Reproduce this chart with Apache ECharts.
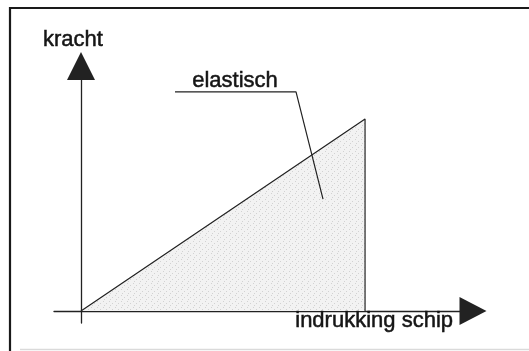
<!DOCTYPE html>
<html>
<head>
<meta charset="utf-8">
<script src="https://cdn.jsdelivr.net/npm/echarts@6/dist/echarts.min.js"></script>
<style>
html,body{margin:0;padding:0;background:#fff;}
#chart{width:529px;height:351px;}
</style>
</head>
<body>
<div id="chart"></div>
<script>
// Data (relative units: indrukking on x, kracht on y)
var indrukking = [0, 1, 1];
var kracht = [0, 1, 0];
// leader line for the "elastisch" annotation
var leaderX = [0.331, 0.757, 0.852];
var leaderY = [1.141, 1.141, 0.583];
var xTitle = 'indrukking schip';
var yTitle = 'kracht';
var areaLabel = 'elastisch';

var FONT = '"Liberation Sans", Arial, Helvetica, sans-serif';
var TXT = {fill: '#151515', stroke: '#151515', lineWidth: 0.5};

// stippled grey fill pattern
var pat = document.createElement('canvas');
pat.width = 6; pat.height = 6;
var pc = pat.getContext('2d');
pc.fillStyle = '#f2f2f2';
pc.fillRect(0, 0, 6, 6);
pc.fillStyle = '#d2d2d2';
pc.fillRect(1, 1, 1, 1);
pc.fillRect(4, 3, 1, 1);
pc.fillRect(2, 5, 1, 1);

var chart = echarts.init(document.getElementById('chart'), null, {renderer: 'canvas'});

var axisLine = {
  show: true,
  onZero: true,
  lineStyle: {color: '#222222', width: 1.3}
};

chart.setOption({
  animation: false,
  backgroundColor: '#ffffff',
  grid: {left: 54, right: 56, top: 66, bottom: 28},
  xAxis: {
    type: 'value', min: -0.095, max: 1.380,
    axisLine: Object.assign({}, axisLine, {symbol: ['none', 'triangle'], symbolSize: [28, 27]}),
    axisTick: {show: false}, axisLabel: {show: false}, splitLine: {show: false}
  },
  yAxis: {
    type: 'value', min: -0.0625, max: 1.276,
    axisLine: Object.assign({}, axisLine, {symbol: ['none', 'triangle'], symbolSize: [28, 28]}),
    axisTick: {show: false}, axisLabel: {show: false}, splitLine: {show: false},
    name: yTitle, nameLocation: 'end', nameGap: 26,
    nameTextStyle: {fontFamily: FONT, fontSize: 22, color: '#151515', textBorderColor: '#151515', textBorderWidth: 0.5,
      align: 'center', verticalAlign: 'middle', padding: [0, 16, 0, 0]}
  },
  series: [
    {
      type: 'line',
      data: indrukking.map(function (x, i) { return [x, kracht[i]]; }),
      showSymbol: false,
      symbol: 'none',
      lineStyle: {color: '#222222', width: 1.2},
      areaStyle: {color: {image: pat, repeat: 'repeat'}, opacity: 1},
      z: 1
    },
    {
      type: 'line',
      data: leaderX.map(function (x, i) { return [x, leaderY[i]]; }),
      showSymbol: false,
      symbol: 'none',
      lineStyle: {color: '#222222', width: 1.2},
      z: 3
    }
  ],
  graphic: [
    {type: 'text', left: 192, top: 70, z: 10,
     style: Object.assign({text: areaLabel, font: '22px ' + FONT}, TXT)},
    {type: 'text', left: 295, top: 310, z: 10,
     style: Object.assign({text: xTitle, font: '22px ' + FONT}, TXT)},
    {type: 'line', shape: {x1: 9, y1: 8, x2: 529, y2: 8}, style: {stroke: '#1a1a1a', lineWidth: 2.2}, z: 10},
    {type: 'line', shape: {x1: 10, y1: 7, x2: 10, y2: 351}, style: {stroke: '#1a1a1a', lineWidth: 2.2}, z: 10},
    {type: 'line', shape: {x1: 20, y1: 349.5, x2: 529, y2: 349.5}, style: {stroke: '#dadada', lineWidth: 1.5}, z: 10}
  ]
});
</script>
</body>
</html>
